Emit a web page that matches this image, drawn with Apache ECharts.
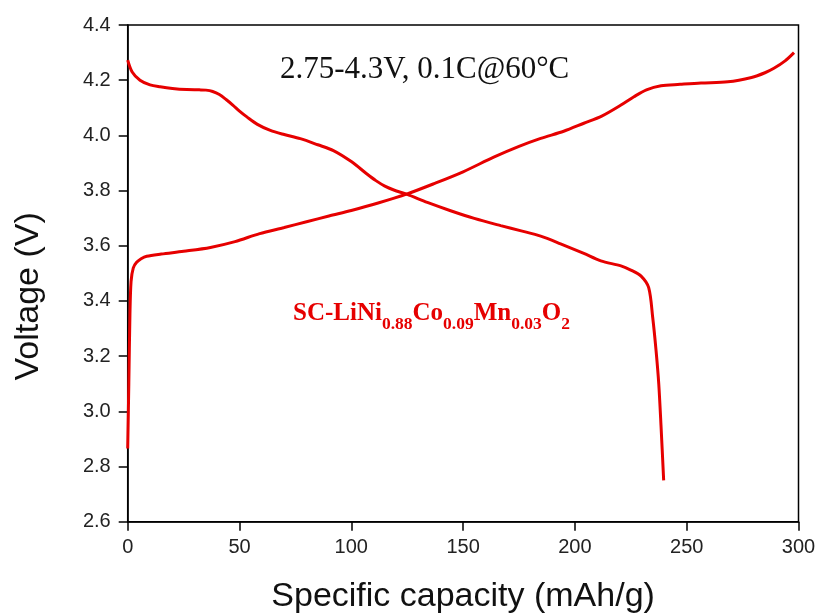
<!DOCTYPE html>
<html>
<head>
<meta charset="utf-8">
<script src="https://cdn.jsdelivr.net/npm/echarts@6/dist/echarts.min.js"></script>
<style>
	html, body { margin: 0; padding: 0; background: #fff; }
	#chart { width: 822px; height: 614px; }
</style>
</head>
<body>
<div id="chart"></div>
<script>
// charge curve (rising)
var chargeCap = [0, 0.5, 1, 1.5, 2.5, 4, 6, 8.5, 15, 25, 37, 48, 59, 70, 80, 90, 100, 112, 125, 137, 150, 163.7, 175, 184.7, 195, 204, 212, 220.6, 226.4, 232, 238.5, 247, 256.4, 268.4, 279, 285, 289, 294, 298];
var chargeVolt = [2.865, 3.1, 3.35, 3.47, 3.52, 3.54, 3.553, 3.562, 3.57, 3.58, 3.594, 3.615, 3.644, 3.666, 3.687, 3.708, 3.728, 3.755, 3.788, 3.825, 3.868, 3.921, 3.96, 3.989, 4.015, 4.044, 4.07, 4.11, 4.14, 4.165, 4.18, 4.185, 4.19, 4.194, 4.21, 4.227, 4.243, 4.27, 4.30];

// discharge curve (falling)
var dischargeCap = [0, 2, 5.5, 10, 14.5, 20, 26.4, 32, 35, 38, 41, 44, 47, 50, 53.3, 58, 63.8, 70, 77.2, 85, 92, 100, 107, 111, 115, 119, 125, 134, 144.4, 155, 166.8, 176, 184.7, 193.6, 204, 211.6, 220.6, 225, 229.6, 233, 234.8, 236.3, 237.5, 238.5, 239.7];
var dischargeVolt = [4.273, 4.23, 4.2, 4.183, 4.176, 4.17, 4.166, 4.165, 4.164, 4.159, 4.148, 4.13, 4.11, 4.088, 4.067, 4.04, 4.018, 4.003, 3.988, 3.966, 3.945, 3.905, 3.86, 3.836, 3.816, 3.802, 3.786, 3.757, 3.727, 3.699, 3.673, 3.654, 3.635, 3.607, 3.572, 3.545, 3.527, 3.512, 3.49, 3.448, 3.34, 3.22, 3.1, 2.95, 2.75];

var xTicks = [0, 50, 100, 150, 200, 250, 300];
var yTicks = [2.6, 2.8, 3.0, 3.2, 3.4, 3.6, 3.8, 4.0, 4.2, 4.4];

// sample label: text pieces, true = subscript
var formulaText = ['SC-LiNi', '0.88', 'Co', '0.09', 'Mn', '0.03', 'O', '2'];
var formulaSub = [false, true, false, true, false, true, false, true];

function zip(xs, ys) {
	var out = [];
	for (var i = 0; i < xs.length; i++) {
		out.push([xs[i], ys[i]]);
	}
	return out;
}

var red = '#e60000';

// lay the formula out piece by piece so subscripts sit below the baseline
function formulaGraphics(x0) {
	var ctx = document.createElement('canvas').getContext('2d');
	var items = [];
	var x = x0;
	for (var i = 0; i < formulaText.length; i++) {
		var sub = formulaSub[i];
		var font = 'bold ' + (sub ? 17.5 : 25) + 'px "Liberation Serif"';
		ctx.font = font;
		items.push({
			type: 'text',
			x: x,
			y: sub ? 324.1 : 313.3,
			style: { text: formulaText[i], font: font, fill: red, textVerticalAlign: 'middle' }
		});
		x += ctx.measureText(formulaText[i]).width;
	}
	return items;
}

var myChart = echarts.init(document.getElementById('chart'));

var option = {
	animation: false,
	grid: {
		left: 127.7,
		right: 23.5,
		top: 25,
		bottom: 92.3,
		outerBoundsMode: 'none',
		show: true,
		borderColor: '#000',
		borderWidth: 1.5
	},
	xAxis: {
		type: 'value',
		min: xTicks[0],
		max: xTicks[xTicks.length - 1],
		interval: 50,
		name: 'Specific capacity (mAh/g)',
		nameLocation: 'middle',
		nameGap: 58,
		nameTextStyle: { fontFamily: 'Liberation Sans', fontSize: 34, color: '#111' },
		axisLine: { lineStyle: { color: '#000', width: 1.5 } },
		axisTick: { inside: false, length: 9, lineStyle: { color: '#000', width: 1.5 } },
		axisLabel: { fontFamily: 'Liberation Sans', fontSize: 20, color: '#222', margin: 16 },
		splitLine: { show: false }
	},
	yAxis: {
		type: 'value',
		min: yTicks[0],
		max: yTicks[yTicks.length - 1],
		interval: 0.2,
		name: 'Voltage (V)',
		nameLocation: 'middle',
		nameGap: 82,
		nameTextStyle: { fontFamily: 'Liberation Sans', fontSize: 34, color: '#111', padding: [0, 46, 0, 0] },
		axisLine: { lineStyle: { color: '#000', width: 1.5 } },
		axisTick: { inside: false, length: 9, lineStyle: { color: '#000', width: 1.5 } },
		axisLabel: {
			fontFamily: 'Liberation Sans', fontSize: 20, color: '#222', margin: 17,
			formatter: function(v) { return v.toFixed(1); }
		},
		splitLine: { show: false }
	},
	graphic: [
		{
			type: 'text',
			x: 280,
			y: 70,
			style: {
				text: '2.75-4.3V, 0.1C@60\u00B0C',
				font: '31px "Liberation Serif"',
				fill: '#111',
				textVerticalAlign: 'middle'
			}
		}
	].concat(formulaGraphics(293)),
	series: [
		{
			type: 'line',
			data: zip(chargeCap, chargeVolt),
			showSymbol: false,
			smooth: 0.3,
			lineStyle: { color: red, width: 3 }
		},
		{
			type: 'line',
			data: zip(dischargeCap, dischargeVolt),
			showSymbol: false,
			smooth: 0.3,
			lineStyle: { color: red, width: 3 }
		}
	]
};
myChart.setOption(option);
</script>
</body>
</html>
